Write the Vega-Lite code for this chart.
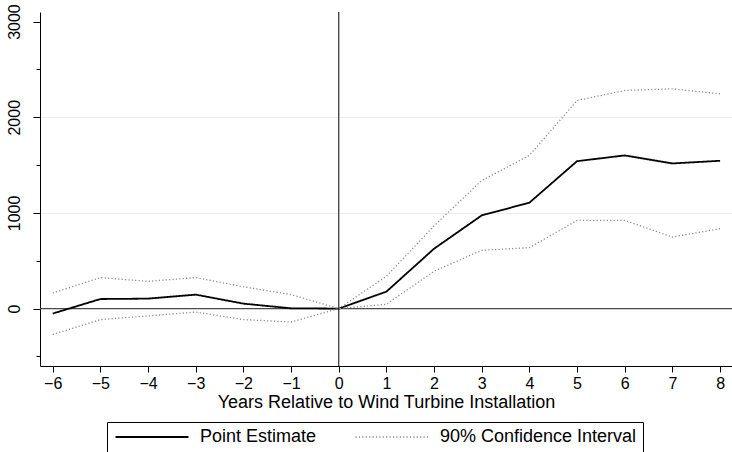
{
  "$schema": "https://vega.github.io/schema/vega-lite/v6.json",
  "width": 692,
  "height": 354,
  "autosize": {"type": "none"},
  "padding": {"left": 40, "top": 12, "right": 0, "bottom": 86},
  "background": "white",
  "config": {
    "font": "Liberation Sans",
    "view": {"stroke": null}
  },
  "datasets": {
    "estimates": [
      {"year": -6, "series": "Point Estimate", "bound": "est", "value": -52},
      {"year": -5, "series": "Point Estimate", "bound": "est", "value": 100},
      {"year": -4, "series": "Point Estimate", "bound": "est", "value": 104},
      {"year": -3, "series": "Point Estimate", "bound": "est", "value": 146},
      {"year": -2, "series": "Point Estimate", "bound": "est", "value": 52},
      {"year": -1, "series": "Point Estimate", "bound": "est", "value": 3},
      {"year": 0, "series": "Point Estimate", "bound": "est", "value": 0},
      {"year": 1, "series": "Point Estimate", "bound": "est", "value": 177},
      {"year": 2, "series": "Point Estimate", "bound": "est", "value": 626},
      {"year": 3, "series": "Point Estimate", "bound": "est", "value": 974},
      {"year": 4, "series": "Point Estimate", "bound": "est", "value": 1107},
      {"year": 5, "series": "Point Estimate", "bound": "est", "value": 1541},
      {"year": 6, "series": "Point Estimate", "bound": "est", "value": 1601},
      {"year": 7, "series": "Point Estimate", "bound": "est", "value": 1517},
      {"year": 8, "series": "Point Estimate", "bound": "est", "value": 1545},

      {"year": -6, "series": "90% Confidence Interval", "bound": "upper", "value": 163},
      {"year": -5, "series": "90% Confidence Interval", "bound": "upper", "value": 324},
      {"year": -4, "series": "90% Confidence Interval", "bound": "upper", "value": 285},
      {"year": -3, "series": "90% Confidence Interval", "bound": "upper", "value": 324},
      {"year": -2, "series": "90% Confidence Interval", "bound": "upper", "value": 228},
      {"year": -1, "series": "90% Confidence Interval", "bound": "upper", "value": 146},
      {"year": 0, "series": "90% Confidence Interval", "bound": "upper", "value": 0},
      {"year": 1, "series": "90% Confidence Interval", "bound": "upper", "value": 337},
      {"year": 2, "series": "90% Confidence Interval", "bound": "upper", "value": 865},
      {"year": 3, "series": "90% Confidence Interval", "bound": "upper", "value": 1339},
      {"year": 4, "series": "90% Confidence Interval", "bound": "upper", "value": 1601},
      {"year": 5, "series": "90% Confidence Interval", "bound": "upper", "value": 2175},
      {"year": 6, "series": "90% Confidence Interval", "bound": "upper", "value": 2280},
      {"year": 7, "series": "90% Confidence Interval", "bound": "upper", "value": 2297},
      {"year": 8, "series": "90% Confidence Interval", "bound": "upper", "value": 2245},

      {"year": -6, "series": "90% Confidence Interval", "bound": "lower", "value": -271},
      {"year": -5, "series": "90% Confidence Interval", "bound": "lower", "value": -115},
      {"year": -4, "series": "90% Confidence Interval", "bound": "lower", "value": -77},
      {"year": -3, "series": "90% Confidence Interval", "bound": "lower", "value": -36},
      {"year": -2, "series": "90% Confidence Interval", "bound": "lower", "value": -115},
      {"year": -1, "series": "90% Confidence Interval", "bound": "lower", "value": -140},
      {"year": 0, "series": "90% Confidence Interval", "bound": "lower", "value": 0},
      {"year": 1, "series": "90% Confidence Interval", "bound": "lower", "value": 45},
      {"year": 2, "series": "90% Confidence Interval", "bound": "lower", "value": 390},
      {"year": 3, "series": "90% Confidence Interval", "bound": "lower", "value": 609},
      {"year": 4, "series": "90% Confidence Interval", "bound": "lower", "value": 637},
      {"year": 5, "series": "90% Confidence Interval", "bound": "lower", "value": 922},
      {"year": 6, "series": "90% Confidence Interval", "bound": "lower", "value": 922},
      {"year": 7, "series": "90% Confidence Interval", "bound": "lower", "value": 748},
      {"year": 8, "series": "90% Confidence Interval", "bound": "lower", "value": 835}
    ]
  },
  "encoding": {
    "x": {
      "type": "quantitative",
      "scale": {"domain": [-6.266, 8.25], "nice": false, "zero": false},
      "axis": {
        "title": "Years Relative to Wind Turbine Installation",
        "titleFont": "Liberation Sans",
        "titleFontSize": 18,
        "titleFontWeight": "normal",
        "titleColor": "black",
        "titlePadding": 2,
        "values": [-6, -5, -4, -3, -2, -1, 0, 1, 2, 3, 4, 5, 6, 7, 8],
        "format": "d",
        "labelFontSize": 16,
        "labelColor": "black",
        "labelPadding": 3,
        "labelFlush": false,
        "labelOverlap": false,
        "tickSize": 6,
        "tickColor": "black",
        "domainColor": "black",
        "grid": false
      }
    },
    "y": {
      "type": "quantitative",
      "scale": {"domain": [-600, 3100], "nice": false, "zero": false},
      "axis": {
        "title": null,
        "values": [-500, 0, 500, 1000, 1500, 2000, 2500, 3000],
        "format": "d",
        "labelExpr": "datum.value % 1000 === 0 ? datum.label : ''",
        "labelAngle": 270,
        "labelAlign": "center",
        "labelBaseline": "bottom",
        "labelFontSize": 16,
        "labelColor": "black",
        "labelPadding": 11,
        "labelFlush": false,
        "labelOverlap": false,
        "tickSize": {"condition": {"test": "datum.value % 1000 === 0", "value": 7}, "value": 4},
        "tickColor": "black",
        "domainColor": "black",
        "grid": true,
        "gridColor": "#e6eef0",
        "gridWidth": 1.2,
        "gridOpacity": {"condition": {"test": "datum.value === 1000 || datum.value === 2000", "value": 1}, "value": 0}
      }
    }
  },
  "layer": [
    {
      "data": {"values": [{"ref": 0}]},
      "mark": {"type": "rule", "color": "#4a4a4a", "strokeWidth": 1.4},
      "encoding": {"x": {"field": "ref", "type": "quantitative"}, "y": null}
    },
    {
      "data": {"values": [{"ref": 0}]},
      "mark": {"type": "rule", "color": "#4a4a4a", "strokeWidth": 1.4},
      "encoding": {"y": {"field": "ref", "type": "quantitative"}, "x": null}
    },
    {
      "data": {"name": "estimates"},
      "mark": {"type": "line", "interpolate": "linear"},
      "encoding": {
        "x": {"field": "year", "type": "quantitative"},
        "y": {"field": "value", "type": "quantitative"},
        "detail": {"field": "bound"},
        "color": {
          "field": "series",
          "type": "nominal",
          "scale": {"domain": ["Point Estimate", "90% Confidence Interval"], "range": ["black", "#8a8a8a"]},
          "legend": {
            "title": null,
            "orient": "none",
            "legendX": 67,
            "legendY": 410,
            "direction": "horizontal",
            "columns": 2,
            "strokeColor": "black",
            "fillColor": "white",
            "padding": 6,
            "columnPadding": 35,
            "labelFontSize": 18,
            "labelColor": "black",
            "labelOffset": 39,
            "labelLimit": 400,
            "symbolType": "M-5,0H5",
            "symbolSize": 213,
            "symbolOffset": 30,
            "symbolStrokeWidth": 1.6,
            "symbolFillColor": "transparent"
          }
        },
        "strokeDash": {
          "field": "series",
          "type": "nominal",
          "scale": {"domain": ["Point Estimate", "90% Confidence Interval"], "range": [[1, 0], [1.2, 2.2]]},
          "legend": null
        },
        "strokeWidth": {
          "field": "series",
          "type": "nominal",
          "scale": {"domain": ["Point Estimate", "90% Confidence Interval"], "range": [1.8, 1.3]},
          "legend": null
        }
      }
    }
  ]
}
